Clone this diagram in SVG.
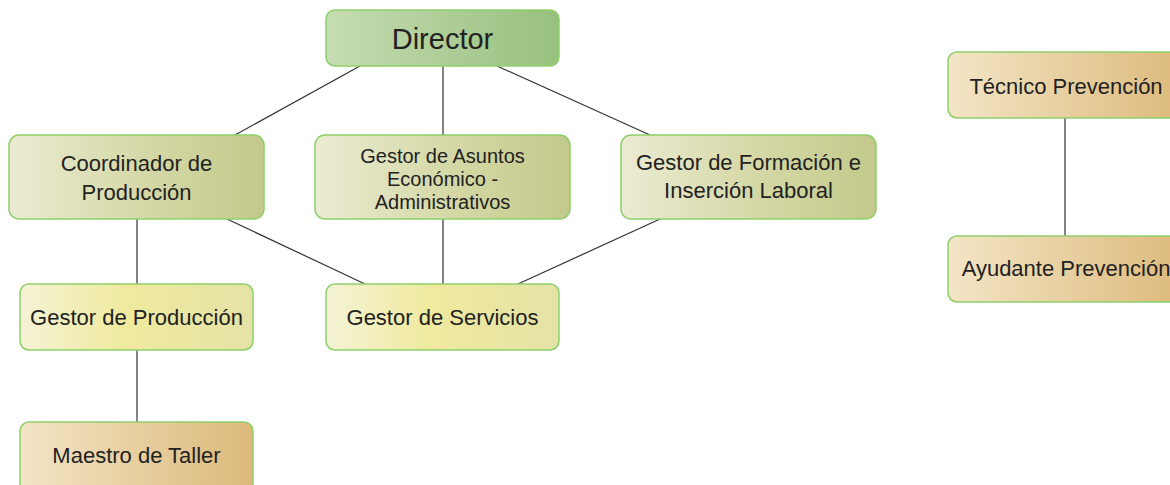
<svg xmlns="http://www.w3.org/2000/svg" width="1170" height="485" viewBox="0 0 1170 485">
<defs>
<linearGradient id="gDir" x1="0" y1="0" x2="1" y2="0"><stop offset="0" stop-color="#c6dcb2"/><stop offset="1" stop-color="#97c07e"/></linearGradient>
<linearGradient id="gMid" x1="0" y1="0" x2="1" y2="0"><stop offset="0" stop-color="#ebebd3"/><stop offset="0.5" stop-color="#d6d9a8"/><stop offset="1" stop-color="#c3c98b"/></linearGradient>
<linearGradient id="gYel" x1="0" y1="0" x2="1" y2="0"><stop offset="0" stop-color="#f5f3d6"/><stop offset="0.45" stop-color="#efea9e"/><stop offset="1" stop-color="#e4e2a6"/></linearGradient>
<linearGradient id="gOra" x1="0" y1="0" x2="1" y2="0"><stop offset="0" stop-color="#f3e5c6"/><stop offset="1" stop-color="#dcb97a"/></linearGradient>
</defs>
<style>
.box{stroke:#8fcf6a;stroke-width:1.5}
.t{font-family:"Liberation Sans",Arial,sans-serif;font-size:22px;fill:#222;text-anchor:middle}
.s{font-size:20px}
.conn line{stroke:#333;stroke-width:1.2}
</style>
<rect width="1170" height="485" fill="#ffffff"/>
<g class="conn">
<line x1="360" y1="66" x2="235" y2="135"/>
<line x1="443" y1="66" x2="443" y2="135"/>
<line x1="497" y1="66" x2="650" y2="135"/>
<line x1="137" y1="219" x2="137" y2="284"/>
<line x1="227" y1="219" x2="365" y2="284"/>
<line x1="443" y1="219" x2="443" y2="284"/>
<line x1="660" y1="219" x2="518" y2="284"/>
<line x1="137" y1="350" x2="137" y2="422"/>
<line x1="1065" y1="118" x2="1065" y2="236"/>
</g>
<g id="director"><rect class="box" x="326" y="10" width="233" height="56" rx="9" fill="url(#gDir)"/><text class="t" x="442.5" y="49" style="font-size:29px">Director</text></g>
<g id="coordinador"><rect class="box" x="9" y="135" width="255" height="84" rx="10" fill="url(#gMid)"/><text class="t" x="136.5" y="171">Coordinador de</text><text class="t" x="136.5" y="200">Producción</text></g>
<g id="asuntos"><rect class="box" x="315" y="135" width="255" height="84" rx="10" fill="url(#gMid)"/><text class="t s" x="442.5" y="163">Gestor de Asuntos</text><text class="t s" x="442.5" y="186">Económico -</text><text class="t s" x="442.5" y="209">Administrativos</text></g>
<g id="formacion"><rect class="box" x="621" y="135" width="255" height="84" rx="10" fill="url(#gMid)"/><text class="t" x="748.5" y="170">Gestor de Formación e</text><text class="t" x="748.5" y="198">Inserción Laboral</text></g>
<g id="gproduccion"><rect class="box" x="20" y="284" width="233" height="66" rx="9" fill="url(#gYel)"/><text class="t" x="136.5" y="325">Gestor de Producción</text></g>
<g id="servicios"><rect class="box" x="326" y="284" width="233" height="66" rx="9" fill="url(#gYel)"/><text class="t" x="442.5" y="325">Gestor de Servicios</text></g>
<g id="maestro"><rect class="box" x="20" y="422" width="233" height="70" rx="9" fill="url(#gOra)"/><text class="t" x="136.5" y="463">Maestro de Taller</text></g>
<g id="tecnico"><rect class="box" x="948" y="52" width="240" height="66" rx="9" fill="url(#gOra)"/><text class="t" x="1066" y="94">Técnico Prevención</text></g>
<g id="ayudante"><rect class="box" x="948" y="236" width="240" height="66" rx="9" fill="url(#gOra)"/><text class="t" x="1066" y="276">Ayudante Prevención</text></g>
</svg>
